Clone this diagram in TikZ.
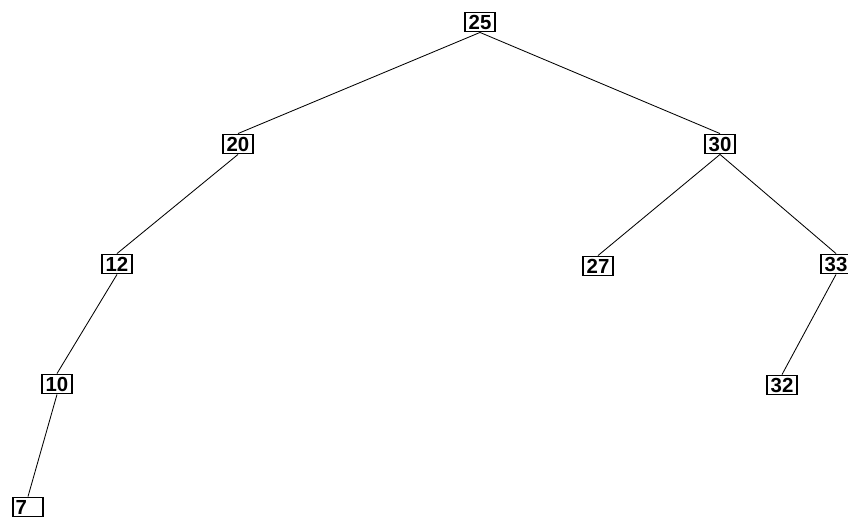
\documentclass[tikz,border=0pt]{standalone}
\usepackage{fontspec}
\setmainfont{Liberation Sans}
\usetikzlibrary{positioning}

\tikzset{
    key/.style={draw, line width=1.2pt, minimum width=0.76cm, minimum height=0.48cm,
        inner sep=0pt, font=\bfseries\fontsize{14.5}{14.5}\selectfont},
    edge/.style={line width=0.6pt}
}

\begin{document}
\begin{tikzpicture}[x=0.025cm, y=-0.025cm]
    % Fix the page size
    \useasboundingbox (0,0) rectangle (848,520);

    % Place the keys of the tree
    \node[key] (n25) at (480,22) {25};
    \node[key] (n20) at (238,144) {20};
    \node[key] (n30) at (720,144) {30};
    \node[key] (n12) at (117,264) {12};
    \node[key] (n27) at (598,266) {27};
    \node[key] (n33) at (836,264) {33};
    \node[key] (n10) at (57,384) {10};
    \node[key] (n32) at (782,385) {32};
    \node[key] (n7) at (28,507) {\makebox[0.62cm][l]{7}};

    % Draw the branches
    \draw[edge] (n25.south) -- (n20.north);
    \draw[edge] (n25.south) -- (n30.north);
    \draw[edge] (n20.south) -- (n12.north);
    \draw[edge] (n30.south) -- (n27.north);
    \draw[edge] (n30.south) -- (n33.north);
    \draw[edge] (n12.south) -- (n10.north);
    \draw[edge] (n33.south) -- (n32.north);
    \draw[edge] (n10.south) -- (n7.north);

\end{tikzpicture}
\end{document}
